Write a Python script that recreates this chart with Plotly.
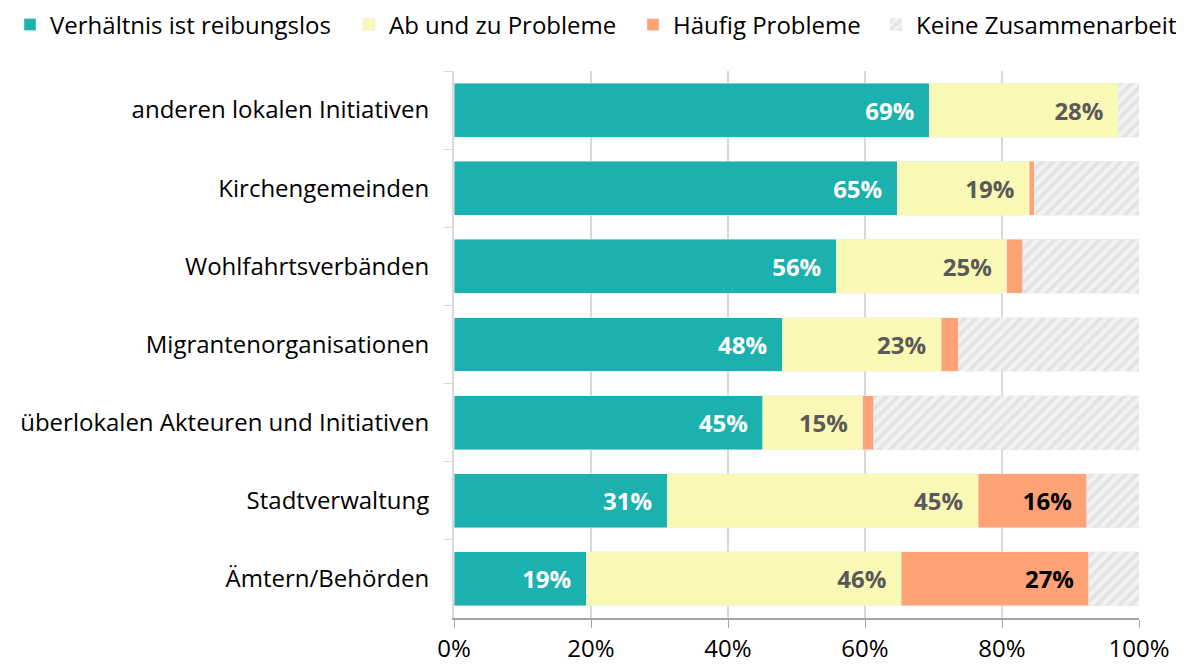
import plotly.graph_objects as go

categories = [
    "anderen lokalen Initiativen",
    "Kirchengemeinden",
    "Wohlfahrtsverbänden",
    "Migrantenorganisationen",
    "überlokalen Akteuren und Initiativen",
    "Stadtverwaltung",
    "Ämtern/Behörden",
]
reibungslos = [69.4, 64.7, 55.8, 47.9, 45.1, 31.1, 19.3]
ab_und_zu = [27.6, 19.3, 24.9, 23.2, 14.6, 45.4, 46.0]
haeufig = [0.0, 0.7, 2.3, 2.5, 1.6, 15.9, 27.4]
keine = [round(100 - a - b - c, 1) for a, b, c in zip(reibungslos, ab_und_zu, haeufig)]

series_names = ["Verhältnis ist reibungslos", "Ab und zu Probleme", "Häufig Probleme", "Keine Zusammenarbeit"]
tick_vals = [0, 20, 40, 60, 80, 100]
tick_text = ["0%", "20%", "40%", "60%", "80%", "100%"]

FONT = "Open Sans"
FS = 24

# page body has an 8px default margin; margins compensate so the plot area
# lands at x 454..1139, y 71..618 in the window
ML, MR, MT, MB = 446, 53, 63, 56
PLOT_W = 1184 - ML - MR
PLOT_H = 666 - MT - MB

# left edge (figure px) of each legend entry box
LEGEND_X_PX = [2, 341, 625, 868]
LEGEND_Y_PX = 17


def labels(vals, minimum=10):
    return [f"{round(v):d}%\u2002" if v >= minimum else "" for v in vals]


fig = go.Figure()
fig.add_trace(go.Bar(
    y=categories, x=reibungslos, orientation="h", name=series_names[0],
    marker=dict(color="#1BB1AE"), legend="legend",
    text=labels(reibungslos), textposition="inside", insidetextanchor="end",
    textfont=dict(family=FONT, size=FS, color="white", weight="bold"),
))
fig.add_trace(go.Bar(
    y=categories, x=ab_und_zu, orientation="h", name=series_names[1],
    marker=dict(color="#F9F8B5"), legend="legend2",
    text=labels(ab_und_zu), textposition="inside", insidetextanchor="end",
    textfont=dict(family=FONT, size=FS, color="#595959", weight="bold"),
))
fig.add_trace(go.Bar(
    y=categories, x=haeufig, orientation="h", name=series_names[2],
    marker=dict(color="#FFA275"), legend="legend3",
    text=labels(haeufig), textposition="inside", insidetextanchor="end",
    textfont=dict(family=FONT, size=FS, color="black", weight="bold"),
))
fig.add_trace(go.Bar(
    y=categories, x=keine, orientation="h", name=series_names[3],
    marker=dict(color="#F2F2F2",
                pattern=dict(shape="/", bgcolor="#F2F2F2", fgcolor="#D3D3D3",
                             size=8, solidity=0.45, fillmode="overlay")),
    legend="legend4",
    textposition="none",
))


def legend_cfg(px):
    return dict(x=(px - ML) / PLOT_W, y=1 + (MT - LEGEND_Y_PX) / PLOT_H,
                xanchor="left", yanchor="middle", bgcolor="rgba(0,0,0,0)",
                font=dict(family=FONT, size=FS, color="black"), itemwidth=30)


fig.update_layout(
    barmode="stack",
    bargap=0.31,
    width=1184, height=666,
    margin=dict(l=ML, r=MR, t=MT, b=MB, autoexpand=False),
    paper_bgcolor="white", plot_bgcolor="white",
    font=dict(family=FONT, size=FS, color="black"),
    showlegend=True,
    legend=legend_cfg(LEGEND_X_PX[0]),
    legend2=legend_cfg(LEGEND_X_PX[1]),
    legend3=legend_cfg(LEGEND_X_PX[2]),
    legend4=legend_cfg(LEGEND_X_PX[3]),
    xaxis=dict(range=[0, 100], tickvals=tick_vals, ticktext=tick_text,
               showgrid=True, gridcolor="#D9D9D9", gridwidth=1.5,
               showline=True, linecolor="#A6A6A6", linewidth=1.5,
               ticks="outside", ticklen=8, tickcolor="#A6A6A6",
               zeroline=False, automargin=False,
               tickfont=dict(family=FONT, size=FS, color="black")),
    yaxis=dict(autorange="reversed", showline=True, linecolor="#D9D9D9", linewidth=2,
               ticks="outside", ticklen=8, tickcolor="#D9D9D9", tickson="boundaries",
               ticklabelstandoff=18, automargin=False,
               tickfont=dict(family=FONT, size=FS, color="black")),
)

fig.write_html("out.html")
